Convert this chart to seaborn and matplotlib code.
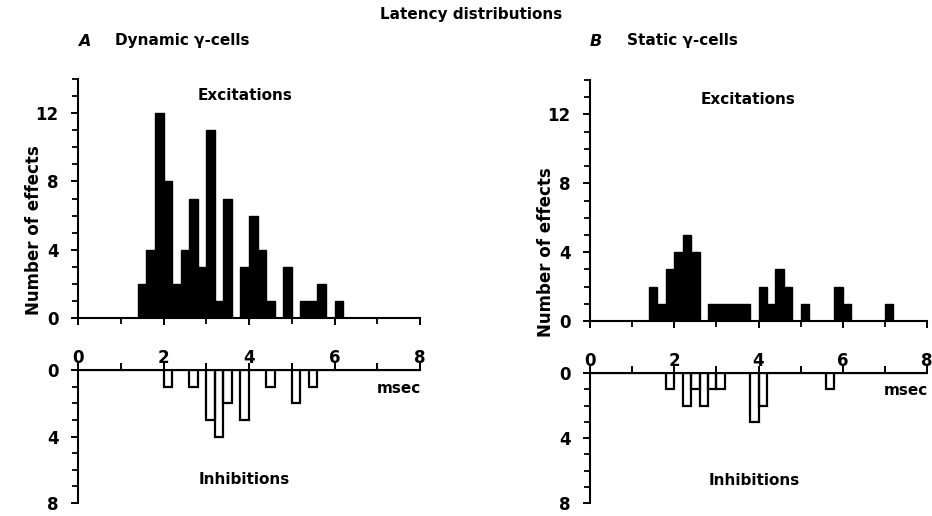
import numpy as np
import pandas as pd
import matplotlib
matplotlib.use("Agg")
import matplotlib.pyplot as plt
from matplotlib.ticker import MultipleLocator, FixedLocator
import seaborn as sns

# ---- data (bin start in msec, count) ----
bin_width = 0.2
a_exc_starts = [1.4, 1.6, 1.8, 2.0, 2.2, 2.4, 2.6, 2.8, 3.0, 3.2, 3.4, 3.6,
                3.8, 4.0, 4.2, 4.4, 4.6, 4.8, 5.0, 5.2, 5.4, 5.6, 5.8, 6.0]
a_exc_counts = [2, 4, 12, 8, 2, 4, 7, 3, 11, 1, 7, 0,
                3, 6, 4, 1, 0, 3, 0, 1, 1, 2, 0, 1]
a_inh_starts = [2.0, 2.6, 3.0, 3.2, 3.4, 3.8, 4.4, 5.0, 5.4]
a_inh_counts = [1, 1, 3, 4, 2, 3, 1, 2, 1]

b_exc_starts = [1.4, 1.6, 1.8, 2.0, 2.2, 2.4, 2.8, 3.0, 3.2, 3.4, 3.6,
                4.0, 4.2, 4.4, 4.6, 5.0, 5.8, 6.0, 7.0]
b_exc_counts = [2, 1, 3, 4, 5, 4, 1, 1, 1, 1, 1,
                2, 1, 3, 2, 1, 2, 1, 1]
b_inh_starts = [1.8, 2.2, 2.4, 2.6, 2.8, 3.0, 3.8, 4.0, 5.6]
b_inh_counts = [1, 2, 1, 2, 1, 1, 3, 2, 1]

x_ticks = [0, 2, 4, 6, 8]
exc_yticks = [0, 4, 8, 12]
inh_yticks = [0, 4, 8]

sns.set_style("ticks")
plt.rcParams['font.family'] = ['DejaVu Sans']
plt.rcParams['axes.linewidth'] = 1.5
plt.rcParams['text.color'] = 'black'
plt.rcParams['axes.labelcolor'] = 'black'
plt.rcParams['axes.edgecolor'] = 'black'
plt.rcParams['xtick.color'] = 'black'
plt.rcParams['ytick.color'] = 'black'

W, H = 932, 516
fig = plt.figure(figsize=(W / 100, H / 100), dpi=100)

def ax_px(left, right, top, bottom):
    return fig.add_axes([left / W, 1 - bottom / H, (right - left) / W, (bottom - top) / H])

def to_df(starts, counts):
    return pd.DataFrame({'latency': np.asarray(starts, float) + bin_width / 2,
                         'count': np.asarray(counts, float)})

def style_common(ax):
    ax.tick_params(which='major', length=5, width=1.4, labelsize=12,
                   colors='black', labelcolor='black')
    ax.tick_params(which='minor', length=4, width=1.3, colors='black')
    for lab in ax.get_xticklabels() + ax.get_yticklabels():
        lab.set_fontweight('bold')
    for sp in ax.spines.values():
        sp.set_color('black')

def draw_exc(ax, starts, counts):
    sns.histplot(data=to_df(starts, counts), x='latency', weights='count',
                 binwidth=bin_width, binrange=(0, 8),
                 color='black', alpha=1, edgecolor='black', linewidth=1.0, ax=ax)
    ax.set_xlim(0, 8)
    ax.set_ylim(0, 14)
    ax.set_xlabel('')
    ax.set_ylabel('')
    ax.spines['top'].set_visible(False)
    ax.spines['right'].set_visible(False)
    ax.xaxis.set_major_locator(FixedLocator(x_ticks))
    ax.xaxis.set_minor_locator(MultipleLocator(1))
    ax.yaxis.set_major_locator(FixedLocator(exc_yticks))
    ax.yaxis.set_minor_locator(MultipleLocator(1))
    ax.tick_params(axis='x', which='major', pad=17)
    ax.tick_params(axis='y', which='major', pad=9)
    style_common(ax)

def draw_inh(ax, starts, counts):
    sns.histplot(data=to_df(starts, counts), x='latency', weights='count',
                 binwidth=bin_width, binrange=(0, 8),
                 fill=False, color='black', linewidth=1.6, ax=ax)
    ax.set_xlim(0, 8)
    ax.set_ylim(8, 0)
    ax.set_xlabel('')
    ax.set_ylabel('')
    ax.spines['bottom'].set_visible(False)
    ax.spines['right'].set_visible(False)
    ax.xaxis.tick_top()
    ax.xaxis.set_major_locator(MultipleLocator(1))
    ax.tick_params(axis='x', labeltop=False, labelbottom=False)
    ax.yaxis.set_major_locator(FixedLocator(inh_yticks))
    ax.yaxis.set_minor_locator(MultipleLocator(1))
    ax.tick_params(axis='y', which='major', pad=9)
    style_common(ax)
    ax.text(7.5, 1.1, 'msec', ha='center', va='center', fontsize=11, fontweight='bold')
    ax.text(3.9, 6.6, 'Inhibitions', ha='center', va='center', fontsize=11, fontweight='bold')

# Panel A
a_exc = ax_px(78, 420, 79, 318)
a_inh = ax_px(78, 420, 370, 503)
draw_exc(a_exc, a_exc_starts, a_exc_counts)
draw_inh(a_inh, a_inh_starts, a_inh_counts)
a_exc.text(3.9, 13.05, 'Excitations', ha='center', va='center', fontsize=11, fontweight='bold')

# Panel B
b_exc = ax_px(590, 927, 80, 321)
b_inh = ax_px(590, 927, 373, 503)
draw_exc(b_exc, b_exc_starts, b_exc_counts)
draw_inh(b_inh, b_inh_starts, b_inh_counts)
b_exc.text(3.75, 12.85, 'Excitations', ha='center', va='center', fontsize=11, fontweight='bold')

# Figure texts
fig.text(471 / W, 1 - 14 / H, 'Latency distributions', ha='center', va='center',
         fontsize=11, fontweight='bold')
fig.text(78 / W, 1 - 41 / H, 'A', ha='left', va='center', fontsize=11.5,
         style='italic', fontweight='bold')
fig.text(115 / W, 1 - 41 / H, 'Dynamic γ-cells', ha='left', va='center',
         fontsize=11, fontweight='bold')
fig.text(590 / W, 1 - 41 / H, 'B', ha='left', va='center', fontsize=11.5,
         style='italic', fontweight='bold')
fig.text(627 / W, 1 - 41 / H, 'Static γ-cells', ha='left', va='center',
         fontsize=11, fontweight='bold')
fig.text(34 / W, 1 - 230 / H, 'Number of effects', rotation=90, ha='center', va='center',
         fontsize=12, fontweight='bold')
fig.text(546 / W, 1 - 252 / H, 'Number of effects', rotation=90, ha='center', va='center',
         fontsize=12, fontweight='bold')

fig.savefig('out.png', dpi=100)
